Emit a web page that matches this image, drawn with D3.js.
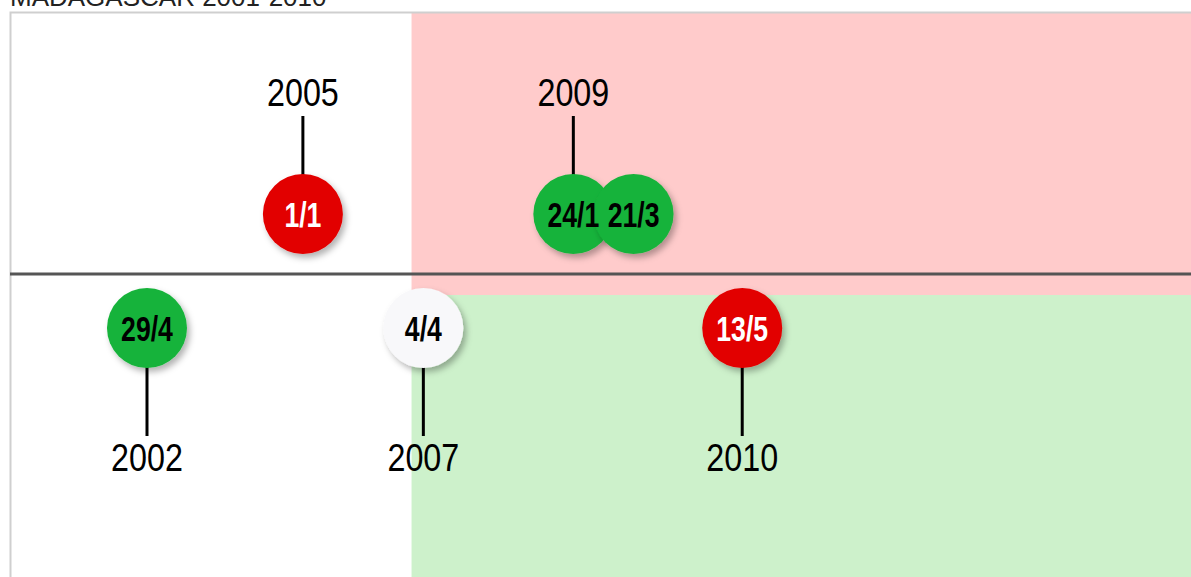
<!DOCTYPE html>
<html lang="en">
<head>
    <meta charset="UTF-8">
    <title>Madagascar 2001-2010</title>
    <script src="https://cdnjs.cloudflare.com/ajax/libs/d3/7.8.5/d3.min.js"></script>
    <style>
        body {
            margin: 0;
            padding: 0;
            overflow: hidden;
            background: #fff;
        }
        .year {
            font-family: "Liberation Sans", Arial, sans-serif;
            font-size: 38px;
        }
        .date {
            font-family: "Liberation Sans", Arial, sans-serif;
            font-size: 36px;
            font-weight: bold;
        }
    </style>
</head>
<body>
    <svg id="chart" width="1191" height="577"></svg>

    <script>
        // events, left to right
        const eventDates = ["29/4", "1/1", "4/4", "24/1", "21/3", "13/5"];
        const eventYears = ["2002", "2005", "2007", "2009", "2009", "2010"];
        const eventTone = ["good", "bad", "neutral", "good", "good", "bad"];
        const eventSide = ["below", "above", "below", "above", "above", "below"];
        const eventSlot = [11.6, 24.8, 35.0, 47.7, 52.8, 62.0];

        // shaded periods (slot where they start)
        const periodStart = 34.0;

        const toneFill = { good: "#17b33a", bad: "#e20000", neutral: "#f8f8fa" };
        const toneText = { good: "#000", bad: "#fff", neutral: "#000" };

        const width = 1191, height = 577;
        const frameTop = 13, axisY = 274, splitY = 295;

        const svg = d3.select("#chart");

        const defs = svg.append("defs");
        defs.append("filter")
            .attr("id", "shadow")
            .attr("x", "-30%").attr("y", "-30%")
            .attr("width", "170%").attr("height", "170%")
            .append("feDropShadow")
            .attr("dx", 3).attr("dy", 4)
            .attr("stdDeviation", 3)
            .attr("flood-color", "#000")
            .attr("flood-opacity", 0.3);

        const x = d3.scaleLinear()
            .domain([0, 100])
            .range([10, width]);

        // title (cut off at the top like the original)
        svg.append("text")
            .attr("x", 10)
            .attr("y", 6)
            .attr("font-family", "Liberation Sans, Arial, sans-serif")
            .attr("font-size", 26)
            .attr("fill", "#222")
            .text("MADAGASCAR 2001-2010");

        // periods
        svg.append("rect")
            .attr("x", x(periodStart)).attr("y", frameTop)
            .attr("width", width - x(periodStart)).attr("height", splitY - frameTop)
            .attr("fill", "#ffcbcb");
        svg.append("rect")
            .attr("x", x(periodStart)).attr("y", splitY)
            .attr("width", width - x(periodStart)).attr("height", height - splitY)
            .attr("fill", "#cdf1cb");

        // frame
        svg.append("path")
            .attr("d", `M10.5,${height} V12.5 H${width}`)
            .attr("fill", "none")
            .attr("stroke", "#cfcfcf")
            .attr("stroke-width", 2);

        // axis
        svg.append("line")
            .attr("x1", 10).attr("x2", width)
            .attr("y1", axisY).attr("y2", axisY)
            .attr("stroke", "#555")
            .attr("stroke-width", 3);

        const events = eventDates.map((d, i) => ({
            date: d,
            year: eventYears[i],
            tone: eventTone[i],
            side: eventSide[i],
            slot: eventSlot[i],
            first: i === 0 || eventYears[i - 1] !== eventYears[i]
        }));

        const cy = d => d.side === "above" ? 214 : 328;
        const r = 40;

        // stems + year labels, only for the first event of a year
        const heads = events.filter(d => d.first);

        svg.selectAll("line.stem")
            .data(heads)
            .join("line")
            .attr("class", "stem")
            .attr("x1", d => x(d.slot)).attr("x2", d => x(d.slot))
            .attr("y1", d => d.side === "above" ? 116 : 360)
            .attr("y2", d => d.side === "above" ? 190 : 436)
            .attr("stroke", "#000")
            .attr("stroke-width", 3);

        // narrow lettering: squeeze horizontally
        svg.selectAll("text.year")
            .data(heads)
            .join("text")
            .attr("class", "year")
            .attr("transform", d => `translate(${x(d.slot)},${d.side === "above" ? 106 : 471}) scale(0.85,1)`)
            .attr("text-anchor", "middle")
            .text(d => d.year);

        svg.selectAll("circle.dot")
            .data(events)
            .join("circle")
            .attr("class", "dot")
            .attr("cx", d => x(d.slot))
            .attr("cy", cy)
            .attr("r", r)
            .attr("fill", d => toneFill[d.tone])
            .attr("filter", "url(#shadow)");

        svg.selectAll("text.date")
            .data(events)
            .join("text")
            .attr("class", "date")
            .attr("transform", d => `translate(${x(d.slot)},${cy(d) + 13}) scale(0.74,1)`)
            .attr("text-anchor", "middle")
            .attr("fill", d => toneText[d.tone])
            .text(d => d.date);
    </script>
</body>
</html>
